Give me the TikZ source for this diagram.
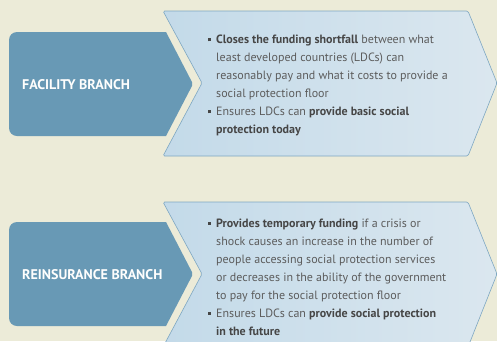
\documentclass[tikz,border=0pt]{standalone}
\usepackage{fontspec}
\setmainfont{PT Sans}
\usetikzlibrary{positioning}
\usepackage{xcolor}

\definecolor{paper}{HTML}{ECEBD8}
\definecolor{branchblue}{HTML}{6899B5}
\definecolor{panelleft}{HTML}{C3DAE9}
\definecolor{panelright}{HTML}{DBE7EF}
\definecolor{paneledge}{HTML}{7EA7C2}
\definecolor{bodygray}{HTML}{5C5C5C}
\definecolor{boldgray}{HTML}{464646}

% bullet hanging to the left of the text column
\newcommand{\sqbullet}{\makebox[0pt][r]{\textcolor{boldgray}{\rule[2.3pt]{3.3pt}{3.3pt}}\hspace{5pt}}}
\newcommand{\keytext}[1]{{\bfseries\color{boldgray}#1}}

\begin{document}
\begin{tikzpicture}[x=1pt, y=-1pt,
    branch/.style={fill=branchblue},
    panel/.style={draw=paneledge, line width=0.6pt, left color=panelleft, right color=panelright, rounded corners=1.5pt},
    branchtitle/.style={anchor=west, inner sep=0pt, text=white!95!paper, font=\fontsize{14}{16}\selectfont\bfseries},
    bullets/.style={anchor=north west, inner sep=0pt, align=left, text=bodygray, font=\fontsize{12}{18}\selectfont}]

        % Background
        \useasboundingbox (0,0) rectangle (497,341);
        \fill[paper] (0,0) rectangle (497,341);
        \clip (0,0) rectangle (497,341);

        % Facility branch
        \path[branch] (166,32) [rounded corners=8pt] -- (9,32) -- (9,136) [sharp corners] -- (166,136) [rounded corners=2pt] -- (193,84) [sharp corners] -- cycle;
        \path[panel] (163,11) -- (468,11) -- (497,83) -- (468,156) -- (163,156) -- (202,83) -- cycle;
        \node[branchtitle] (facility) at (22,85) {FACILITY BRANCH};
        \node[bullets] (facilitytext) at (216,35) {%
            \sqbullet\keytext{Closes the funding shortfall} between what\\
            least developed countries (LDCs) can\\
            reasonably pay and what it costs to provide a\\
            social protection floor\\
            \sqbullet Ensures LDCs can \keytext{provide basic social}\\
            \keytext{protection today}};

        % Reinsurance branch
        \path[branch] (166,222) [rounded corners=8pt] -- (9,222) -- (9,326) [sharp corners] -- (166,326) [rounded corners=2pt] -- (193,274) [sharp corners] -- cycle;
        \path[panel] (163,202) -- (468,202) -- (497,274) -- (468,347) -- (163,347) -- (202,274) -- cycle;
        \node[branchtitle] (reinsurance) at (22,275) {REINSURANCE BRANCH};
        \node[bullets] (reinsurancetext) at (216,218.5) {%
            \sqbullet\keytext{Provides temporary funding} if a crisis or\\
            shock causes an increase in the number of\\
            people accessing social protection services\\
            or decreases in the ability of the government\\
            to pay for the social protection floor\\
            \sqbullet Ensures LDCs can \keytext{provide social protection}\\
            \keytext{in the future}};
\end{tikzpicture}
\end{document}
